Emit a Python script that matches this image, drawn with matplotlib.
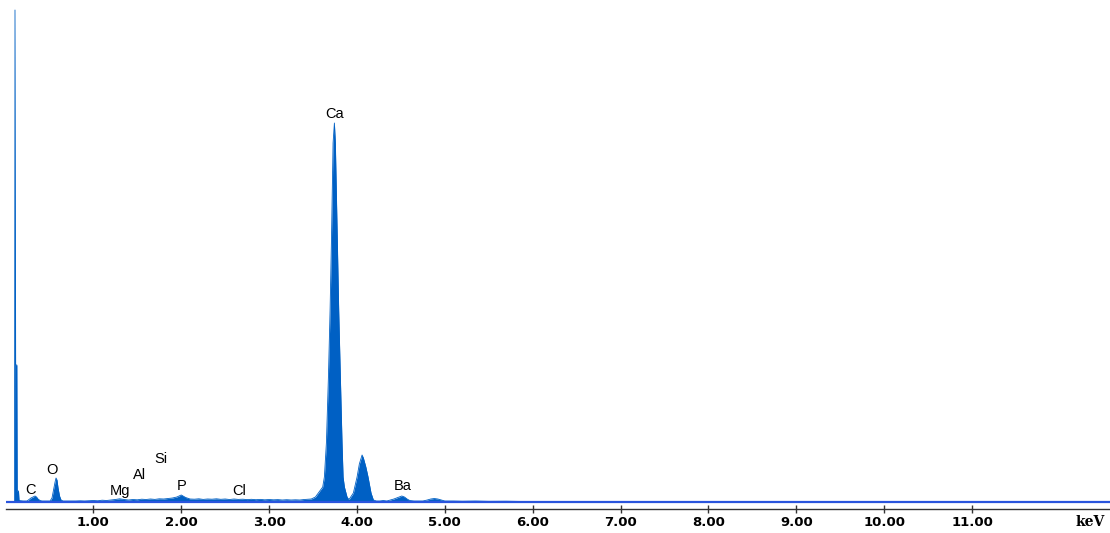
import matplotlib.pyplot as plt
import numpy as np

# EDS spectrum, counts in arbitrary units
spike_e = [0.000, 0.102, 0.108, 0.115, 0.129, 0.133, 0.148, 0.154, 0.200, 0.240]
spike_c = [0, 0, 492, 137, 137, 11, 11, 1.5, 1, 1]

c_e = [0.245, 0.268, 0.290, 0.313, 0.336, 0.353, 0.370, 0.393, 0.416, 0.460]
c_c = [1, 2.5, 4, 5, 6, 5, 3, 1.5, 1, 1]

o_e = [0.507, 0.529, 0.546, 0.564, 0.575, 0.586, 0.598, 0.615, 0.632, 0.655]
o_c = [1, 4, 12, 20, 24, 22, 14, 6, 2, 1]

bg_e = [0.70, 0.75, 0.80, 0.85, 0.90, 0.95, 1.00, 1.05, 1.10, 1.15,
        1.20, 1.25, 1.30, 1.35, 1.40, 1.45, 1.50, 1.55, 1.60, 1.65,
        1.70, 1.75, 1.80, 1.85, 1.90, 1.95, 2.00, 2.05, 2.10, 2.15,
        2.20, 2.25, 2.30, 2.35, 2.40, 2.45, 2.50, 2.55, 2.60, 2.65,
        2.70, 2.75, 2.80, 2.85, 2.90, 2.95, 3.00, 3.05, 3.10, 3.15,
        3.20, 3.25, 3.30, 3.35, 3.40, 3.45]
bg_c = [1, 1, 1, 1.2, 1, 1.3, 1.5, 1.2, 1.8, 1.5,
        2, 2.5, 3.2, 2.5, 2, 2.5, 2.2, 2.8, 2.5, 3,
        2.6, 3.2, 3, 3.5, 4, 5, 7, 4.5, 3, 2.8,
        3.2, 2.6, 3, 2.8, 3.2, 2.7, 3, 2.5, 3, 2.6,
        2.8, 2.4, 2.7, 2.3, 2.6, 2.2, 2.5, 2.2, 2.4, 2,
        2.3, 2, 2.2, 2, 2.5, 2.8]

ca_e = [3.480, 3.527, 3.560, 3.610, 3.629, 3.652, 3.675, 3.694, 3.709, 3.728,
        3.743, 3.754, 3.777, 3.792, 3.811, 3.830, 3.842, 3.857, 3.887, 3.902,
        3.914, 3.959, 4.001, 4.027, 4.058, 4.073, 4.101, 4.126, 4.160, 4.187,
        4.221]
ca_c = [3, 5, 9, 15, 25, 59, 125, 192, 259, 359,
        379, 359, 259, 192, 125, 59, 25, 15, 5, 3,
        3, 9, 25, 38, 47, 44, 35, 25, 9, 2,
        1]

tail_e = [4.26, 4.30, 4.34, 4.38, 4.42, 4.45, 4.48, 4.51, 4.54, 4.57,
          4.60, 4.65, 4.70, 4.75, 4.80, 4.84, 4.88, 4.92, 4.96, 5.00,
          5.10, 5.20, 5.35, 5.50, 5.70, 5.90, 6.10, 6.30, 6.60, 12.60]
tail_c = [1, 1.5, 1, 2, 3, 4, 5, 6, 5, 3,
          1.5, 1, 1, 1, 2, 3, 3.5, 3, 2, 1,
          1, 0.8, 1, 0.7, 0.8, 0.5, 0.5, 0.3, 0, 0]

energy = np.concatenate([spike_e, c_e, o_e, bg_e, ca_e, tail_e])
counts = np.concatenate([spike_c, c_c, o_c, bg_c, ca_c, tail_c])

labels = ["C", "O", "Mg", "Al", "Si", "P", "Cl", "Ca", "Ba"]
label_x = [0.29, 0.525, 1.30, 1.52, 1.77, 2.00, 2.66, 3.74, 4.52]
label_y = [12, 32, 11, 27, 43, 16, 11, 388, 16]

ticks = [1, 2, 3, 4, 5, 6, 7, 8, 9, 10, 11]

fig = plt.figure(figsize=(11.1, 5.33), dpi=100)
ax = fig.add_axes([5.5 / 1110, 24 / 533, 1 - 5.5 / 1110, 509 / 533])

ax.fill_between(energy, 0, counts, color='#0060c4', lw=0)
ax.plot(energy, counts, color='#0060c4', lw=0.6)
ax.axhline(0, color='#2a55dd', lw=1.6, zorder=3)

for t, x, y in zip(labels, label_x, label_y):
    ax.text(x, y, t, ha='center', va='center', fontsize=10.5,
            family='Liberation Sans', color='black')

ax.set_xlim(0, 12.57)
ax.set_ylim(-7, 502)

for s in ['top', 'left', 'right']:
    ax.spines[s].set_visible(False)
ax.spines['bottom'].set_color('#333333')
ax.spines['bottom'].set_linewidth(1.0)

ax.set_yticks([])
ax.set_xticks(ticks)
ax.set_xticklabels(["%.2f" % t for t in ticks], fontsize=9.5,
                   fontweight='bold', family='DejaVu Sans')
ax.tick_params(axis='x', direction='inout', length=6, width=1,
               color='#333333', pad=2)

fig.text(1090 / 1110, 1 - 522 / 533, "keV", ha='center', va='center',
         fontsize=10, fontweight='bold', family='DejaVu Serif')

plt.savefig("out.png", dpi=100)
